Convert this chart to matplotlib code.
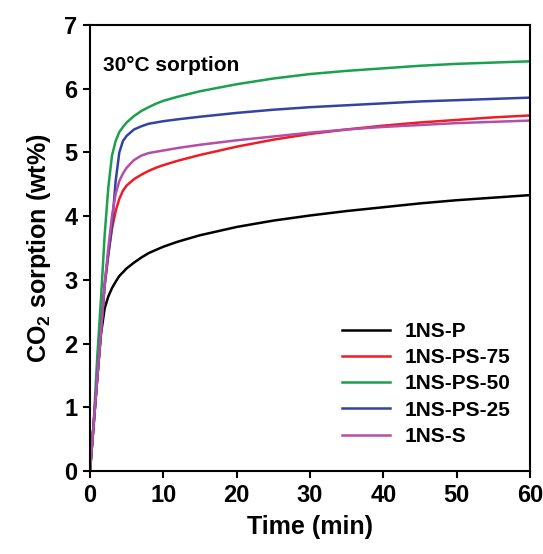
import matplotlib
matplotlib.use("Agg")
import matplotlib.pyplot as plt

plt.rcParams['font.family'] = ['Liberation Sans', 'DejaVu Sans']
plt.rcParams['font.weight'] = 'bold'
plt.rcParams['mathtext.fontset'] = 'custom'
plt.rcParams['mathtext.bf'] = 'Liberation Sans:bold'
plt.rcParams['mathtext.rm'] = 'Liberation Sans:bold'

# Time (min)
time = [0, 0.5, 1, 1.5, 2, 2.5, 3, 3.5, 4, 4.5, 5, 6, 7, 8, 9, 10, 12, 15,
        20, 25, 30, 35, 40, 45, 50, 55, 60]

# CO2 sorption (wt%)
ns_p = [0, 0.73, 1.47, 2.15, 2.55, 2.74, 2.87, 2.97, 3.06, 3.12, 3.18, 3.27,
        3.35, 3.42, 3.47, 3.52, 3.6, 3.7, 3.83, 3.93, 4.01, 4.08, 4.14,
        4.2, 4.25, 4.29, 4.33]
ns_ps75 = [0, 0.73, 1.47, 2.2, 2.9, 3.4, 3.8, 4.08, 4.27, 4.4, 4.48, 4.58,
           4.65, 4.71, 4.76, 4.8, 4.87, 4.96, 5.09, 5.2, 5.29, 5.36, 5.42,
           5.47, 5.51, 5.55, 5.58]
ns_ps50 = [0, 0.75, 1.8, 2.7, 3.7, 4.45, 4.95, 5.18, 5.32, 5.4, 5.47, 5.57,
           5.65, 5.71, 5.765, 5.81, 5.875, 5.96, 6.07, 6.16, 6.23, 6.28, 6.32,
           6.36, 6.39, 6.41, 6.43]
ns_ps25 = [0, 0.73, 1.47, 2.2, 2.93, 3.4, 3.85, 4.55, 5.0, 5.18, 5.26, 5.36,
           5.41, 5.45, 5.47, 5.49, 5.52, 5.56, 5.62, 5.67, 5.71, 5.74, 5.77,
           5.8, 5.82, 5.84, 5.86]
ns_s = [0, 0.73, 1.47, 2.2, 2.93, 3.5, 4.0, 4.35, 4.55, 4.67, 4.76, 4.88,
        4.95, 4.99, 5.01, 5.03, 5.07, 5.12, 5.19, 5.25, 5.31, 5.36, 5.4,
        5.43, 5.46, 5.48, 5.5]

labels = ['1NS-P', '1NS-PS-75', '1NS-PS-50', '1NS-PS-25', '1NS-S']
colors = ['#000000', '#ee1c25', '#1aa14b', '#3344a0', '#b54ea9']
series = [ns_p, ns_ps75, ns_ps50, ns_ps25, ns_s]

fig = plt.figure(figsize=(5.43, 5.54), dpi=100)
ax = fig.add_axes([0.1657, 0.1498, 0.8103, 0.8051])

for vals, lab, col in zip(series, labels, colors):
    ax.plot(time, vals, color=col, lw=1.8, label=lab)

ax.set_xlim(0, 60)
ax.set_ylim(0, 7)
ax.set_xticks(range(0, 61, 10))
ax.set_yticks(range(0, 8))
ax.tick_params(direction='out', length=5, width=1.5, labelsize=17, pad=4)
for lab in ax.get_xticklabels() + ax.get_yticklabels():
    lab.set_fontweight('bold')
for sp in ax.spines.values():
    sp.set_linewidth(1.5)

ax.set_xlabel('Time (min)', fontsize=18, fontweight='bold', labelpad=6)
ax.set_ylabel(r'CO$_\mathbf{2}$ sorption (wt%)', fontsize=18,
              fontweight='bold', labelpad=8)

ax.text(0.03, 0.91, '30°C sorption', transform=ax.transAxes,
        fontsize=15, fontweight='bold', va='center')

leg = ax.legend(loc='lower right', frameon=False, fontsize=15,
                handlelength=2.3, handletextpad=0.7, labelspacing=0.35,
                borderaxespad=0.8, bbox_to_anchor=(1.012, 0.0))
for t in leg.get_texts():
    t.set_fontweight('bold')

fig.savefig('out.png', dpi=100)
